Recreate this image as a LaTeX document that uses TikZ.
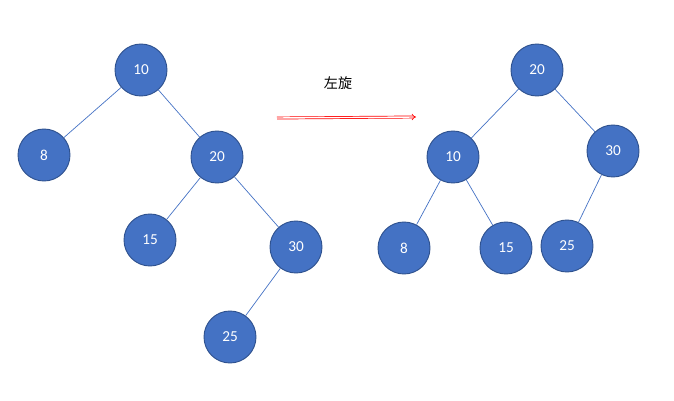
\documentclass[tikz,border=0pt]{standalone}
\usepackage{fontspec}
\setmainfont{Carlito}
\newfontfamily\cjk{Noto Sans CJK SC}
\usetikzlibrary{arrows.meta}
\definecolor{treeblue}{HTML}{4472C4}
\definecolor{treeedge}{HTML}{2F528F}
\tikzset{
    my-tree-node/.style={
        circle, draw=treeedge, fill=treeblue, line width=0.8pt, minimum size=1.56cm,
        inner sep=0pt, text=white, font=\fontsize{13}{13}\selectfont
    },
    my-tree-edge/.style={
        draw=treeblue, line width=0.6pt
    },
}
\begin{document}
\begin{tikzpicture}[x=0.03cm, y=-0.03cm]

        \useasboundingbox (0, 0) rectangle (674, 401);

        % BEFORE ROTATION -----------------------------------------------------------
        \node[my-tree-node] (L10) at (141, 70)  {10};
        \node[my-tree-node] (L8)  at (44, 155)  {8};
        \node[my-tree-node] (L20) at (217, 157) {20};
        \node[my-tree-node] (L15) at (150, 240) {15};
        \node[my-tree-node] (L30) at (296, 247) {30};
        \node[my-tree-node] (L25) at (230, 337) {25};

        \draw[my-tree-edge] (L10) -- (L8);
        \draw[my-tree-edge] (L10) -- (L20);
        \draw[my-tree-edge] (L20) -- (L15);
        \draw[my-tree-edge] (L20) -- (L30);
        \draw[my-tree-edge] (L30) -- (L25);

        % ARROW ---------------------------------------------------------------------
        \coordinate (ARROWIN)  at (277, 118);
        \coordinate (ARROWOUT) at (416, 117);
        \draw[red, double, double distance=1.2pt, line width=0.6pt, -{Implies[length=6pt]}] (ARROWIN) -- (ARROWOUT);
        \node (ROT) at (338, 83) {\cjk\fontsize{12}{12}\selectfont 左旋};

        % AFTER ROTATION ------------------------------------------------------------
        \node[my-tree-node] (R20) at (537, 70)  {20};
        \node[my-tree-node] (R10) at (453, 157) {10};
        \node[my-tree-node] (R30) at (613, 151) {30};
        \node[my-tree-node] (R8)  at (404, 248) {8};
        \node[my-tree-node] (R15) at (506, 248) {15};
        \node[my-tree-node] (R25) at (567, 246) {25};

        \draw[my-tree-edge] (R20) -- (R10);
        \draw[my-tree-edge] (R20) -- (R30);
        \draw[my-tree-edge] (R10) -- (R8);
        \draw[my-tree-edge] (R10) -- (R15);
        \draw[my-tree-edge] (R30) -- (R25);

    \end{tikzpicture}
\end{document}
